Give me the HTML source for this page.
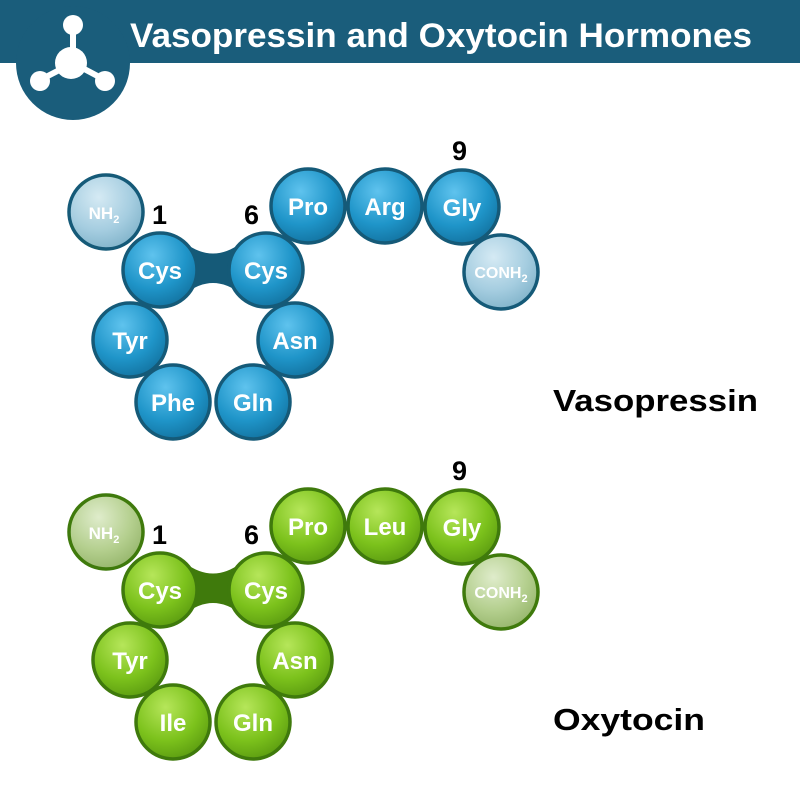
<!DOCTYPE html>
<html><head><meta charset="utf-8"><style>html,body{margin:0;padding:0;background:#fff}svg{display:block}</style></head>
<body>
<svg width="800" height="800" viewBox="0 0 800 800" xmlns="http://www.w3.org/2000/svg" font-family="'Liberation Sans', Arial, sans-serif" font-weight="bold">
<defs>
<radialGradient id="gb" cx="0.4" cy="0.3" r="0.75"><stop offset="0" stop-color="#5fc3ee"/><stop offset="0.6" stop-color="#1f95c9"/><stop offset="1" stop-color="#12719e"/></radialGradient>
<radialGradient id="gbl" cx="0.4" cy="0.3" r="0.75"><stop offset="0" stop-color="#d5eaf4"/><stop offset="0.6" stop-color="#a5cde0"/><stop offset="1" stop-color="#7fb2c9"/></radialGradient>
<radialGradient id="gg" cx="0.4" cy="0.3" r="0.75"><stop offset="0" stop-color="#b6e65a"/><stop offset="0.6" stop-color="#7cc21c"/><stop offset="1" stop-color="#5a9a10"/></radialGradient>
<radialGradient id="ggl" cx="0.4" cy="0.3" r="0.75"><stop offset="0" stop-color="#dfeccb"/><stop offset="0.6" stop-color="#b4cf8e"/><stop offset="1" stop-color="#94b46a"/></radialGradient>
</defs>
<rect x="0" y="0" width="800" height="63" fill="#1a5d7b"/>
<circle cx="73" cy="63" r="57" fill="#1a5d7b"/>
<g fill="#fff">
<rect x="70" y="30" width="6" height="20"/>
<line x1="73" y1="63" x2="40" y2="80" stroke="#fff" stroke-width="6"/>
<line x1="73" y1="63" x2="105" y2="80" stroke="#fff" stroke-width="6"/>
<circle cx="73" cy="25" r="10"/><circle cx="71" cy="63" r="16"/>
<circle cx="40" cy="81" r="10"/><circle cx="105" cy="81" r="10"/>
</g>
<text x="130" y="47" font-size="34" fill="#fff" textLength="622" lengthAdjust="spacingAndGlyphs">Vasopressin and Oxytocin Hormones</text>

<g>
<path d="M185 243 Q213 264 241 243 L241 294 Q213 272 185 294 Z" fill="#155a78"/>
<g stroke="#155a78" stroke-width="3.5">
<circle cx="106" cy="212" r="37" fill="url(#gbl)"/>
<circle cx="308" cy="206" r="37" fill="url(#gb)"/>
<circle cx="385" cy="206" r="37" fill="url(#gb)"/>
<circle cx="462" cy="207" r="37" fill="url(#gb)"/>
<circle cx="501" cy="272" r="37" fill="url(#gbl)"/>
<circle cx="130" cy="340" r="37" fill="url(#gb)"/>
<circle cx="295" cy="340" r="37" fill="url(#gb)"/>
<circle cx="173" cy="402" r="37" fill="url(#gb)"/>
<circle cx="253" cy="402" r="37" fill="url(#gb)"/>
<circle cx="160" cy="270" r="37" fill="url(#gb)"/>
<circle cx="266" cy="270" r="37" fill="url(#gb)"/>
</g>
<g fill="#fff" font-size="24" text-anchor="middle">
<text x="160" y="279">Cys</text><text x="266" y="279">Cys</text>
<text x="308" y="215">Pro</text><text x="385" y="215">Arg</text><text x="462" y="216">Gly</text>
<text x="130" y="349">Tyr</text><text x="295" y="349">Asn</text>
<text x="173" y="411">Phe</text><text x="253" y="411">Gln</text>
<text x="104" y="219" font-size="17">NH<tspan font-size="11" dy="4">2</tspan></text>
<text x="501" y="278" font-size="16">CONH<tspan font-size="11" dy="4">2</tspan></text>
</g>
<g fill="#000" font-size="27">
<text x="152" y="224">1</text><text x="244" y="224">6</text><text x="452" y="160">9</text>
</g>
</g>
<text x="553" y="411" font-size="31" fill="#000" textLength="205" lengthAdjust="spacingAndGlyphs">Vasopressin</text>

<g transform="translate(0,320)">
<path d="M185 243 Q213 264 241 243 L241 294 Q213 272 185 294 Z" fill="#3f7a0c"/>
<g stroke="#3f7a0c" stroke-width="3.5">
<circle cx="106" cy="212" r="37" fill="url(#ggl)"/>
<circle cx="308" cy="206" r="37" fill="url(#gg)"/>
<circle cx="385" cy="206" r="37" fill="url(#gg)"/>
<circle cx="462" cy="207" r="37" fill="url(#gg)"/>
<circle cx="501" cy="272" r="37" fill="url(#ggl)"/>
<circle cx="130" cy="340" r="37" fill="url(#gg)"/>
<circle cx="295" cy="340" r="37" fill="url(#gg)"/>
<circle cx="173" cy="402" r="37" fill="url(#gg)"/>
<circle cx="253" cy="402" r="37" fill="url(#gg)"/>
<circle cx="160" cy="270" r="37" fill="url(#gg)"/>
<circle cx="266" cy="270" r="37" fill="url(#gg)"/>
</g>
<g fill="#fff" font-size="24" text-anchor="middle">
<text x="160" y="279">Cys</text><text x="266" y="279">Cys</text>
<text x="308" y="215">Pro</text><text x="385" y="215">Leu</text><text x="462" y="216">Gly</text>
<text x="130" y="349">Tyr</text><text x="295" y="349">Asn</text>
<text x="173" y="411">Ile</text><text x="253" y="411">Gln</text>
<text x="104" y="219" font-size="17">NH<tspan font-size="11" dy="4">2</tspan></text>
<text x="501" y="278" font-size="16">CONH<tspan font-size="11" dy="4">2</tspan></text>
</g>
<g fill="#000" font-size="27">
<text x="152" y="224">1</text><text x="244" y="224">6</text><text x="452" y="160">9</text>
</g>
</g>
<text x="553" y="730" font-size="31" fill="#000" textLength="152" lengthAdjust="spacingAndGlyphs">Oxytocin</text>
</svg>
</body></html>
